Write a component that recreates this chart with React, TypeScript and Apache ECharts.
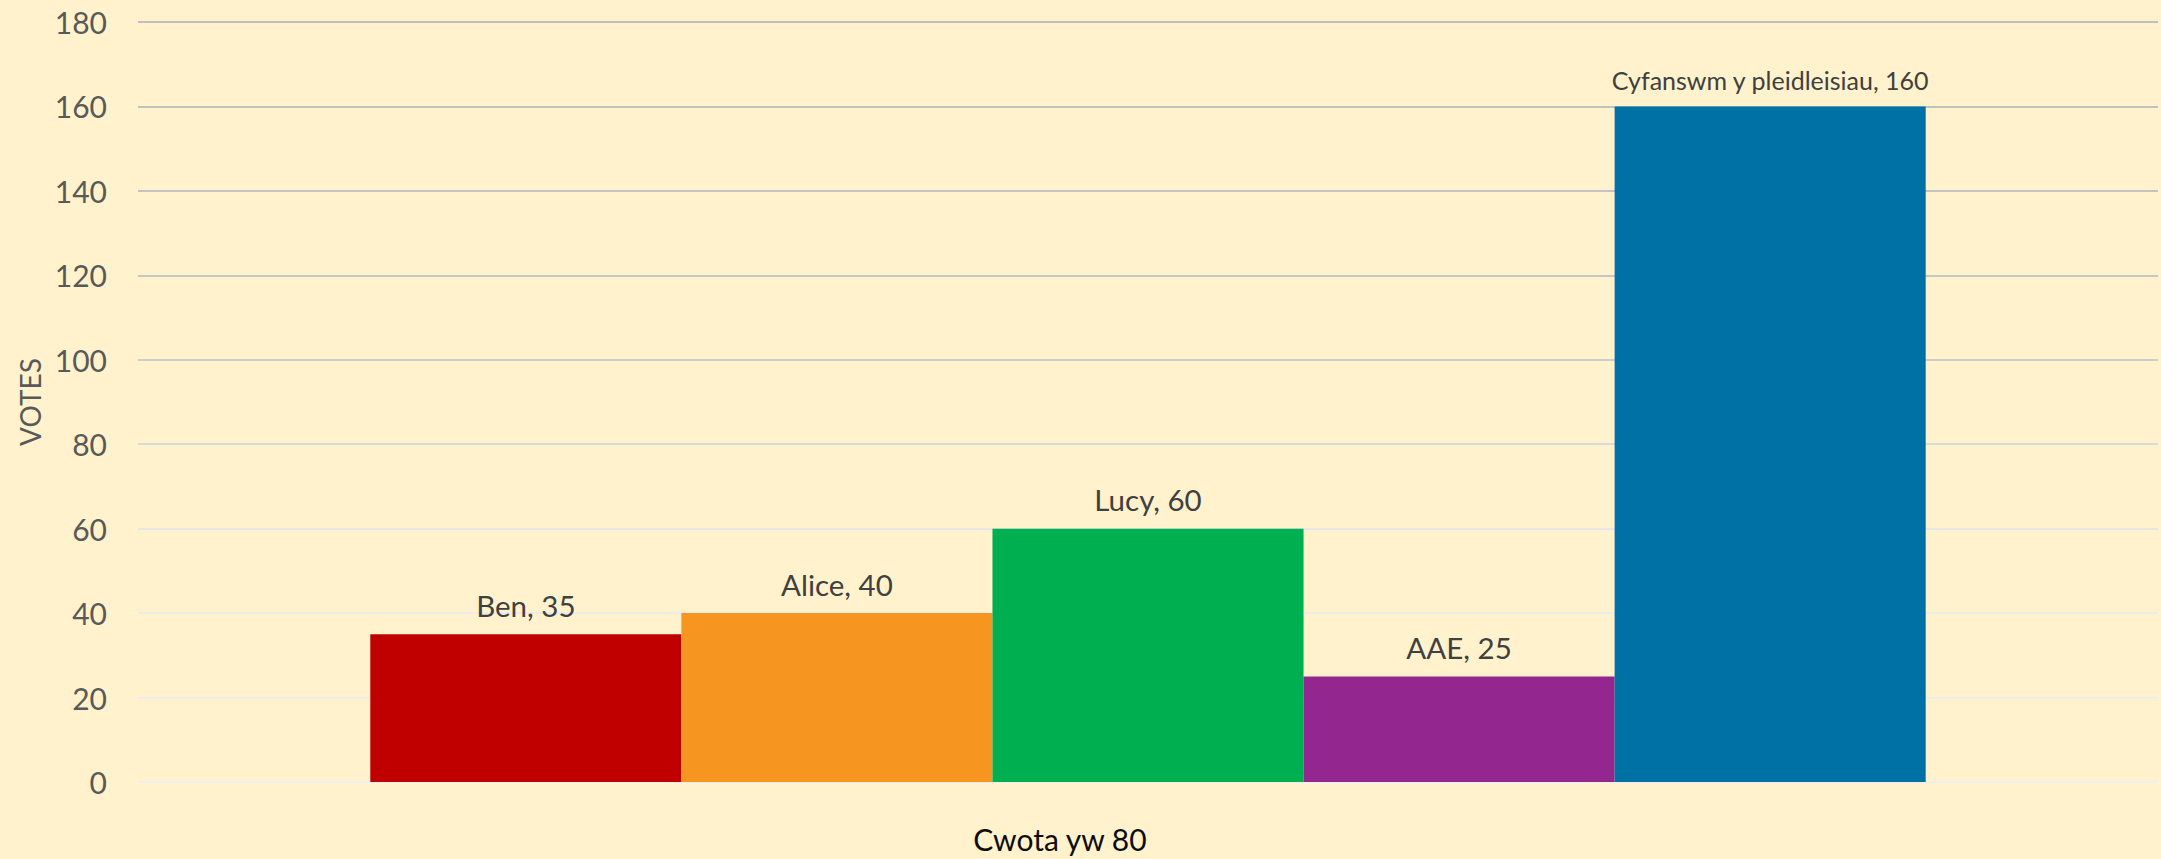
import React, { useEffect, useRef } from "react";
import * as echarts from "echarts";

const categories = ["Cwota yw 80"];
const seriesNames = ["Ben", "Alice", "Lucy", "AAE", "Cyfanswm y pleidleisiau"];
const seriesValues = [35, 40, 60, 25, 160];
const seriesColors = ["#C00000", "#F79521", "#00B050", "#93278F", "#0071A4"];
const yTicks = { min: 0, max: 180, interval: 20 };
const gridColors = ["#eeeeee", "#ededed", "#ebebeb", "#e6e6e6", "#dadada", "#cdcdcd", "#c6c6c6", "#c3c3c3", "#c1c1c1", "#c0c0c0"];

const FONT = "Lato";

export default function App() {
  const ref = useRef<HTMLDivElement>(null);
  useEffect(() => {
    document.body.style.margin = "0";
    document.body.style.overflow = "hidden";
    const chart = echarts.init(ref.current!, null, { renderer: "svg" });
    chart.setOption({
      animation: false,
      backgroundColor: "#FFF2CC",
      grid: { left: 138, right: 3, top: 22, bottom: 77, containLabel: false },
      xAxis: {
        type: "category",
        data: categories,
        axisLine: { show: false },
        axisTick: { show: false },
        axisLabel: {
          margin: 42,
          formatter: (v: string) => "{a|" + v + "}",
          rich: {
            a: {
              fontFamily: FONT,
              fontSize: 30,
              color: "#0d0d0d",
              padding: [0, 176, 0, 0],
            },
          },
        },
      },
      yAxis: {
        type: "value",
        min: yTicks.min,
        max: yTicks.max,
        interval: yTicks.interval,
        name: "VOTES",
        nameLocation: "middle",
        nameGap: 92,
        nameTextStyle: { fontFamily: FONT, fontSize: 28, color: "#595959" },
        axisLine: { show: false },
        axisTick: { show: false },
        axisLabel: { fontFamily: FONT, fontSize: 30, color: "#595959", margin: 31 },
        splitLine: { lineStyle: { color: gridColors, width: 2 } },
      },
      series: seriesNames.map((name, i) => ({
        type: "bar",
        name,
        data: [seriesValues[i]],
        barGap: "0%",
        barCategoryGap: "23%",
        itemStyle: { color: seriesColors[i] },
        label: {
          show: true,
          position: "top",
          distance: 14,
          formatter: "{a}, {c}",
          fontFamily: FONT,
          fontSize: i === 4 ? 25 : 29.5,
          color: "#404040",
        },
      })),
    });
    return () => chart.dispose();
  }, []);
  return <div ref={ref} style={{ width: 2161, height: 859 }} />;
}
